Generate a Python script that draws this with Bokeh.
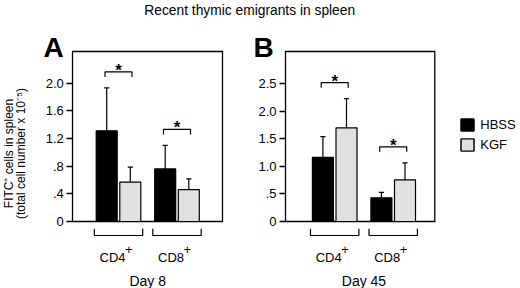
import math
from bokeh.plotting import figure
from bokeh.models import (Range1d, LinearAxis, FixedTicker, ColumnDataSource,
                          Legend, LegendItem)
from bokeh.core.properties import value
from bokeh.embed import file_html
from bokeh.resources import INLINE

# ---------------- data ----------------
title_text = "Recent thymic emigrants in spleen"
y_label_lines = ["FITC\u207a cells in spleen", "(total cell number x 10\u207b\u2075)"]
panel_letters = ["A", "B"]
day_labels = ["Day 8", "Day 45"]
cell_types = ["CD4", "CD8"]
series_names = ["HBSS", "KGF"]
series_colors = ["#000000", "#e0e0e0"]

hbss_day8 = [1.31, 0.76]
hbss_day8_sem = [0.62, 0.34]
kgf_day8 = [0.57, 0.46]
kgf_day8_sem = [0.215, 0.157]

hbss_day45 = [1.165, 0.43]
hbss_day45_sem = [0.375, 0.10]
kgf_day45 = [1.70, 0.755]
kgf_day45_sem = [0.53, 0.31]

ticks_day8 = [0, 0.4, 0.8, 1.2, 1.6, 2.0]
tick_labels_day8 = ["0", ".4", ".8", "1.2", "1.6", "2.0"]
ticks_day45 = [0, 0.5, 1.0, 1.5, 2.0, 2.5]
tick_labels_day45 = ["0", ".5", "1.0", "1.5", "2.0", "2.5"]

values = [[hbss_day8, kgf_day8], [hbss_day45, kgf_day45]]
sems = [[hbss_day8_sem, kgf_day8_sem], [hbss_day45_sem, kgf_day45_sem]]
ticks = [ticks_day8, ticks_day45]
tick_labels = [tick_labels_day8, tick_labels_day45]

# ---------------- layout ----------------
W, H = 520, 288
FONT = "Liberation Sans"
PXG = 58.5            # pixels per group step
ORIGIN_PX = 118.0     # pixel x of first group of panel A
PANEL_SHIFT_PX = [0.0, 216.2]
BOX_PX = [(72.3, 222.0), (285.0, 434.3)]
Y0_PX = 221.0         # pixel row of y = 0 (from top)
BOX_TOP_PX = 51.0
PX_PER_UNIT = [69.2, 55.1]
BAR_W = 21.0 / PXG
BAR_OFF = 11.8 / PXG


def xpx(px):
    return (px - ORIGIN_PX) / PXG


def ypx(px_from_top):
    return H - px_from_top


p = figure(width=W, height=H, output_backend="svg", toolbar_location=None,
           x_axis_type=None, y_axis_type=None, min_border=0,
           x_range=Range1d(xpx(0), xpx(W)), y_range=Range1d(0, H),
           outline_line_color=None, background_fill_color="white",
           border_fill_color="white")
p.grid.visible = False

for i, rn in enumerate(panel_letters):
    ppu = PX_PER_UNIT[i]
    p.extra_y_ranges[rn] = Range1d(-(H - Y0_PX) / ppu, Y0_PX / ppu)

legend_renderers = [[], []]

for i, rn in enumerate(panel_letters):
    ppu = PX_PER_UNIT[i]
    shift = PANEL_SHIFT_PX[i] / PXG
    centers = [shift + g for g in range(len(cell_types))]
    box_left = xpx(BOX_PX[i][0])
    box_right = xpx(BOX_PX[i][1])
    box_top = (Y0_PX - BOX_TOP_PX) / ppu

    # box (bottom, right, top edges); left edge is the axis line
    p.line(x=[box_left, box_right, box_right, box_left], y=[0, 0, box_top, box_top],
           line_color="black", line_width=1.3, line_join="miter", line_cap="square",
           y_range_name=rn)

    axis = LinearAxis(y_range_name=rn, fixed_location=box_left,
                      ticker=FixedTicker(ticks=ticks[i]),
                      bounds=(0, box_top),
                      major_label_overrides={float(t): l for t, l in zip(ticks[i], tick_labels[i])},
                      major_tick_out=6, major_tick_in=0,
                      minor_tick_out=0, minor_tick_in=0,
                      major_label_standoff=3,
                      axis_line_width=1.3, axis_line_color="black",
                      major_tick_line_width=1.3, major_tick_line_color="black",
                      major_label_text_font=FONT,
                      major_label_text_font_size="13px",
                      major_label_text_color="black")
    p.add_layout(axis, "left")

    tops_all = []
    for s in range(len(series_names)):
        xs = [c + (2 * s - 1) * BAR_OFF for c in centers]
        tops = values[i][s]
        errs = [t + e for t, e in zip(tops, sems[i][s])]
        tops_all.append(errs)
        src = ColumnDataSource(dict(x=xs, top=tops, err=errs))
        r = p.vbar(x="x", top="top", bottom=0, width=BAR_W, source=src,
                   fill_color=series_colors[s], line_color="black", line_width=1.2,
                   y_range_name=rn)
        legend_renderers[s].append(r)
        p.segment(x0="x", y0="top", x1="x", y1="err", source=src,
                  line_color="black", line_width=1.2, y_range_name=rn)
        cap = 2.6 / PXG
        p.segment(x0=[x - cap for x in xs], y0=errs, x1=[x + cap for x in xs], y1=errs,
                  line_color="black", line_width=1.2, y_range_name=rn)

    # significance brackets with stars
    hw = 13.5 / PXG
    leg = 5.0 / ppu
    gap = 16.0 / ppu
    br_xs, br_ys, star_x, star_y = [], [], [], []
    for g, c in enumerate(centers):
        yb = max(tops_all[0][g], tops_all[1][g]) + gap
        br_xs.append([c - hw, c - hw, c + hw, c + hw])
        br_ys.append([yb - leg, yb, yb, yb - leg])
        star_x.append(c)
        star_y.append(yb)
    p.multi_line(xs=br_xs, ys=br_ys, line_color="black", line_width=1.2,
                 y_range_name=rn)
    p.text(x=star_x, y=star_y, text=["*"] * len(star_x), y_range_name=rn,
           text_font=value(FONT), text_font_style="bold", text_font_size="17px",
           text_align="center", text_baseline="alphabetic", y_offset=-1.5,
           text_color="black")

    # group brackets below the axis
    ghw = 24.2 / PXG
    gy_top = -(228.3 - Y0_PX) / ppu
    gy_bot = -(235.0 - Y0_PX) / ppu
    p.multi_line(xs=[[c - ghw, c - ghw, c + ghw, c + ghw] for c in centers],
                 ys=[[gy_top, gy_bot, gy_bot, gy_top] for c in centers],
                 line_color="black", line_width=1.2, y_range_name=rn)

    # category labels with superscript +
    cy = -(256.5 - Y0_PX) / ppu
    p.text(x=centers, y=[cy] * len(centers), text=cell_types, y_range_name=rn,
           x_offset=7, text_align="right", text_baseline="alphabetic",
           text_font=value(FONT), text_font_size="13px", text_color="black")
    p.text(x=centers, y=[cy] * len(centers), text=["+"] * len(centers), y_range_name=rn,
           x_offset=6.5, y_offset=-8, text_align="left", text_baseline="alphabetic",
           text_font=value(FONT), text_font_size="13px", text_color="black")

    # day label
    dy = -(280.0 - Y0_PX) / ppu
    p.text(x=[sum(centers) / len(centers)], y=[dy], text=[day_labels[i]], y_range_name=rn,
           text_align="center", text_baseline="alphabetic",
           text_font=value(FONT), text_font_size="14px", text_color="black")

# panel letters
p.text(x=[xpx(43), xpx(253)], y=[ypx(47), ypx(47)], text=panel_letters,
       text_align="left", text_baseline="alphabetic", text_font=value(FONT),
       text_font_style="bold", text_font_size="28px", text_color="black")

# title
p.text(x=[xpx(249.2)], y=[ypx(10.3)], text=[title_text], text_align="center",
       text_baseline="alphabetic", text_font=value(FONT), text_font_size="13.8px",
       text_color="black")

# y-axis label (two lines, rotated)
p.text(x=[xpx(8), xpx(20)], y=[ypx(153), ypx(153)], text=y_label_lines,
       angle=math.pi / 2, text_align="center", text_baseline="middle",
       text_font=value(FONT), text_font_size="12px", text_color="black")

legend = Legend(items=[LegendItem(label=series_names[s], renderers=legend_renderers[s])
                       for s in range(len(series_names))],
                location=(459.3, H - 152.3), orientation="vertical",
                glyph_width=16, glyph_height=15, label_height=15, label_width=20,
                label_standoff=5, spacing=5, padding=0, margin=0,
                border_line_color=None, background_fill_alpha=0,
                label_text_font=FONT, label_text_font_size="13px",
                label_text_color="black")
p.add_layout(legend)

open("out.html", "w").write(file_html(p, INLINE))
